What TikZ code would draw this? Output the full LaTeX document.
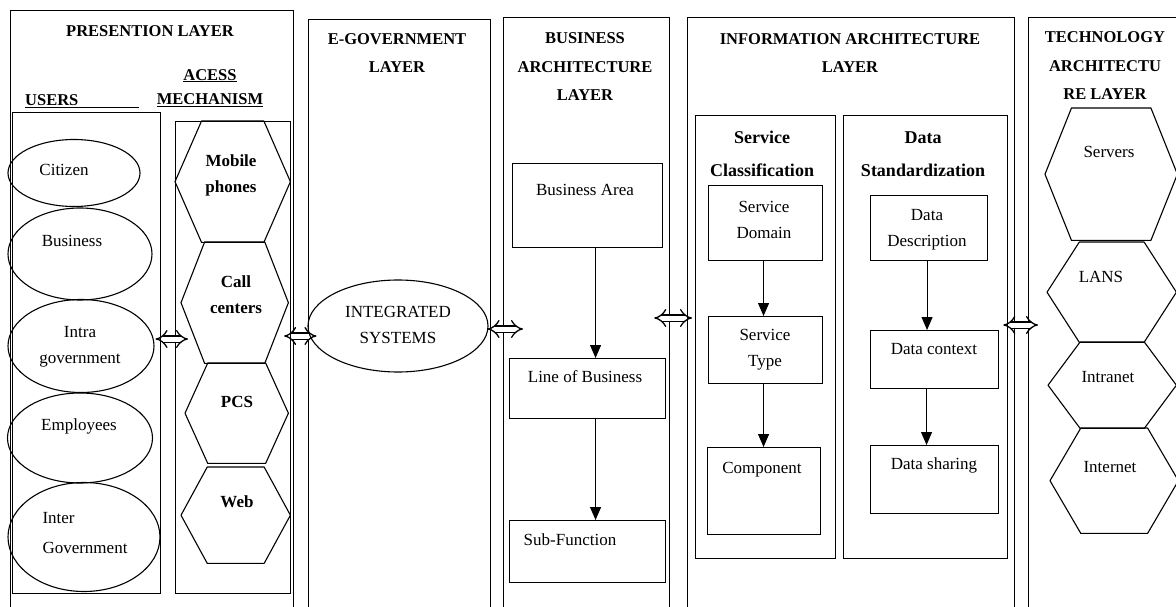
\documentclass[tikz,border=0pt]{standalone}
\usepackage{fontspec}
\setmainfont{Liberation Serif}
\usetikzlibrary{shapes.geometric,arrows.meta,calc}

\begin{document}
\begin{tikzpicture}[x=1pt, y=-1pt,
    layer/.style={draw, line width=1.3pt, inner sep=0pt, anchor=north west},
    box/.style={draw, line width=1.1pt, inner sep=0pt, anchor=north west},
    hexa/.style={inner sep=0pt, anchor=north west},
    oval/.style={draw, ellipse, line width=1.1pt, inner sep=0pt},
    txt/.style={align=center, inner sep=0pt, font=\fontsize{17}{26}\selectfont},
    btxt/.style={txt, font=\bfseries\fontsize{17}{26}\selectfont},
    ttl/.style={align=center, inner sep=0pt, font=\bfseries\fontsize{16.5}{28.5}\selectfont},
    sub/.style={align=center, inner sep=0pt, font=\bfseries\fontsize{18}{33}\selectfont},
    flow/.style={line width=1pt, -{Triangle[length=13pt, width=11pt]}},
    link/.style={double, double distance=5pt, line width=1.3pt, {Implies}-{Implies}}
]
    \useasboundingbox (0,0) rectangle (1176,607);
    \clip (0,0) rectangle (1176,607);

    % Layers
    \node[layer, minimum width=283, minimum height=620] (pres) at (10,10) {};
    \node[layer, minimum width=182, minimum height=600] (egov) at (308,19) {};
    \node[layer, minimum width=166, minimum height=600] (busl) at (503,17) {};
    \node[layer, minimum width=327, minimum height=600] (infl) at (687,17) {};
    \node[layer, minimum width=170, minimum height=600] (tech) at (1028,17) {};

    \node[ttl] (pres-t) at (150,31) {PRESENTION LAYER};
    \node[ttl] (egov-t) at (397,53) {E-GOVERNMENT\\LAYER};
    \node[ttl] (busl-t) at (585,67) {BUSINESS\\ARCHITECTURE\\LAYER};
    \node[ttl] (infl-t) at (850,53) {INFORMATION ARCHITECTURE\\LAYER};
    \node[ttl] (tech-t) at (1105,66) {TECHNOLOGY\\ARCHITECTU\\RE LAYER};

    % Presentation layer
    \node[box, minimum width=148, minimum height=481] (users) at (12,112) {};
    \node[box, minimum width=115, minimum height=472] (access) at (175,121) {};
    \node[ttl, anchor=base west] (users-t) at (25,106) {\underline{USERS\hspace*{61pt}}};
    \node[ttl] (access-t) at (210,88) {\underline{ACESS}\\[-4pt]\underline{MECHANISM}};

    \node[oval, minimum width=132, minimum height=67] (cit) at (74,173) {};
    \node[oval, minimum width=144, minimum height=92] (bus) at (80,254) {};
    \node[oval, minimum width=146, minimum height=93] (ia) at (81,346) {};
    \node[oval, minimum width=145, minimum height=90] (emp) at (80,438) {};
    \node[oval, minimum width=152, minimum height=109] (ig) at (84,537) {};
    \node[txt] (cit-t) at (64,170) {Citizen};
    \node[txt] (bus-t) at (72,241) {Business};
    \node[txt] (ia-t) at (80,347) {Intra\\government};
    \node[txt, align=left] (ig-t) at (85,533) {Inter\\[4pt]Government};
    \node[txt] (emp-t) at (79,426) {Employees};

    \node[hexa, minimum width=115, minimum height=121] (mob) at (175,121) {};
    \node[hexa, minimum width=107, minimum height=121] (cc) at (181,242) {};
    \node[hexa, minimum width=103, minimum height=100] (pcs) at (185,363) {};
    \node[hexa, minimum width=109, minimum height=96] (web) at (181,467) {};
    \node[btxt] (mob-t) at (231,175) {Mobile\\phones};
    \node[btxt] (cc-t) at (236,295) {Call\\centers};
    \node[btxt] (pcs-t) at (237,402) {PCS};
    \node[btxt] (web-t) at (237,502) {Web};

    % E-government layer
    \node[oval, minimum width=180, minimum height=92] (is) at (398,326) {};
    \node[txt] (is-t) at (398,325) {INTEGRATED\\SYSTEMS};

    % Business architecture layer
    \node[box, minimum width=150, minimum height=84] (ba) at (512,163) {};
    \node[box, minimum width=156, minimum height=60] (lob) at (509,358) {};
    \node[box, minimum width=156, minimum height=62] (sf) at (509,520) {};
    \node[txt] (ba-t) at (585,190) {Business Area};
    \node[txt] (lob-t) at (585,377) {Line of Business};
    \node[txt] (sf-t) at (570,540) {Sub-Function};

    \draw[flow] ([xshift=8]ba.south) -- ([xshift=8]ba.south |- lob.north);
    \draw[flow] ([xshift=8]lob.south) -- ([xshift=8]lob.south |- sf.north);

    % Information architecture layer
    \node[box, minimum width=140, minimum height=443] (sc) at (695,115) {};
    \node[box, minimum width=164, minimum height=443] (dstd) at (843,115) {};
    \node[sub] (sc-t) at (762,154) {Service\\Classification};
    \node[sub] (dstd-t) at (923,154) {Data\\Standardization};

    \node[box, minimum width=114, minimum height=75] (sd) at (708,185) {};
    \node[box, minimum width=114, minimum height=67] (st) at (708,316) {};
    \node[box, minimum width=113, minimum height=87] (comp) at (707,447) {};
    \node[box, minimum width=117, minimum height=65] (dd) at (870,195) {};
    \node[box, minimum width=128, minimum height=58] (dc) at (870,330) {};
    \node[box, minimum width=128, minimum height=68] (ds) at (870,445) {};
    \node[txt] (sd-t) at (764,220) {Service\\Domain};
    \node[txt] (st-t) at (765,350) {Service\\Type};
    \node[txt] (comp-t) at (762,470) {Component};
    \node[txt] (dd-t) at (927,230) {Data\\Description};
    \node[txt] (dc-t) at (934,349) {Data context};
    \node[txt] (ds-t) at (934,465) {Data sharing};

    \draw[flow] ([xshift=-2]sd.south) -- ([xshift=-2]sd.south |- st.north);
    \draw[flow] ([xshift=-2]st.south) -- ([xshift=-2]st.south |- comp.north);
    \draw[flow] ([xshift=-2]dd.south) -- ([xshift=-2]dd.south |- dc.north);
    \draw[flow] ([xshift=-8]dc.south) -- ([xshift=-8]dc.south |- ds.north);

    % Technology architecture layer
    \node[hexa, minimum width=132, minimum height=132] (srv) at (1045,108) {};
    \node[hexa, minimum width=129, minimum height=100] (lan) at (1047,242) {};
    \node[hexa, minimum width=128, minimum height=86] (itr) at (1048,342) {};
    \node[hexa, minimum width=128, minimum height=105] (itn) at (1050,428) {};
    \node[txt] (srv-t) at (1109,152) {Servers};
    \node[txt] (lan-t) at (1101,277) {LANS};
    \node[txt] (itr-t) at (1108,377) {Intranet};
    \node[txt] (itn-t) at (1110,467) {Internet};

    % Hexagon outlines
    \foreach \h/\f in {mob/0.23, cc/0.22, pcs/0.22, web/0.24, srv/0.2, lan/0.25, itr/0.25, itn/0.24} {
        \draw[line width=1.1pt, line join=round] (\h.west)
            -- ($(\h.north west)!\f!(\h.north east)$) -- ($(\h.north east)!\f!(\h.north west)$)
            -- (\h.east)
            -- ($(\h.south east)!\f!(\h.south west)$) -- ($(\h.south west)!\f!(\h.south east)$)
            -- cycle;
    }

    % Links between layers
    \coordinate (lvl) at (0,318);
    \coordinate (lvr) at (0,325);
    \draw[link] ([xshift=1,yshift=7]ia.east) -- ([xshift=13,yshift=7]access.west |- ia.east);
    \draw[link] ([xshift=-7,yshift=-10]access.east |- is.west) -- ([xshift=9,yshift=-10]is.west);
    \draw[link] ([xshift=-1,yshift=-3]is.east) -- ([xshift=20,yshift=-3]busl.west |- is.east);
    \draw[link] ([xshift=-16]busl.east |- lvl) -- ([xshift=5]infl.west |- lvl);
    \draw[link] ([xshift=-12]infl.east |- lvr) -- ([xshift=10]tech.west |- lvr);

\end{tikzpicture}
\end{document}
